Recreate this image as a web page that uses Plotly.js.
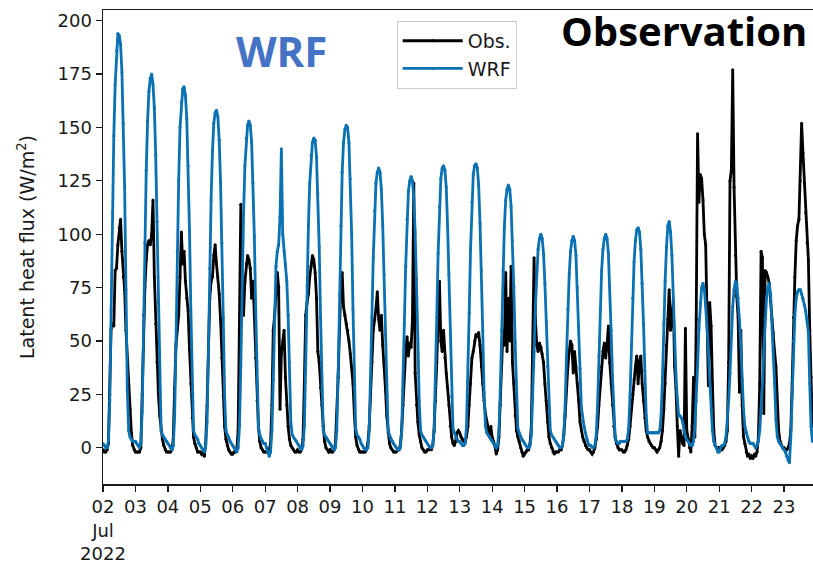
<!DOCTYPE html>
<html>
<head>
<meta charset="utf-8">
<script src="https://cdn.plot.ly/plotly-3.0.1.min.js"></script>
<style>
  html, body { margin: 0; padding: 0; overflow: hidden; background: #fff; }
  #chart { width: 830px; height: 566px; }
</style>
</head>
<body>
<div id="chart"></div>
<script>
// Days of July 2022 shown on the time axis (also the tick labels)
const dayLabels = ['02','03','04','05','06','07','08','09','10','11','12',
                   '13','14','15','16','17','18','19','20','21','22','23'];

// Observed latent heat flux (W/m2), hourly, one row per day (00h..23h)
const obsFlux = [
  [-1,-2,-2,-1,2,25,56,58,57,83,84,95,103,107,92,80,74,55,42,32,18,7,1,-1],
  [-2,-2,-2,-2,0,25,62,75,88,95,97,95,100,116,80,58,40,25,15,8,4,1,-1,-2],
  [-2,-2,-2,-1,4,28,48,55,62,80,101,86,92,78,70,64,46,30,14,5,2,0,-2,-2],
  [-2,-3,-2,-4,2,20,46,70,78,80,90,95,86,80,72,60,42,24,10,4,1,-1,-2,-3],
  [-3,-2,-2,-1,8,55,114,70,62,78,86,90,88,84,70,78,62,42,22,10,3,0,-1,-2],
  [-2,-2,-2,-1,2,20,55,62,72,82,75,18,44,50,55,33,20,10,4,1,0,-1,-2,-2],
  [-1,-2,-2,-1,4,30,62,68,72,80,85,90,88,82,70,45,40,28,20,10,3,0,-1,-2],
  [-1,-2,-2,-1,2,15,33,55,75,82,66,62,58,55,50,44,38,30,16,5,1,-1,-2,-2],
  [-2,-2,-2,-1,2,10,25,40,55,60,65,73,60,55,62,48,40,28,15,7,2,0,-1,-2],
  [-2,-2,-1,-1,1,8,20,35,45,52,43,49,47,60,124,35,20,12,6,3,0,-1,-2,-2],
  [-1,-1,0,-1,1,8,22,40,60,78,50,45,55,42,35,28,20,10,5,2,1,3,7,8],
  [7,5,4,3,3,5,10,20,30,42,45,50,53,52,54,48,38,30,22,16,12,8,6,10],
  [5,3,1,-3,-1,5,20,40,55,48,82,45,70,50,85,40,30,15,8,5,3,0,-2,-4],
  [-3,-2,-1,-1,2,10,45,89,60,48,45,49,47,44,40,30,22,12,5,2,0,-2,-3,-2],
  [-2,-2,-1,-1,1,6,15,28,38,45,50,48,35,45,38,30,22,12,8,5,3,1,0,-1],
  [-1,-2,-3,-2,0,4,10,20,30,38,45,49,42,48,57,40,30,20,10,5,2,0,-1,-1],
  [-1,-2,-2,-1,1,4,10,18,25,32,38,43,30,40,43,30,22,14,8,5,3,2,1,0],
  [0,-1,-2,-1,0,3,8,18,30,48,60,74,55,60,69,38,28,10,-4,8,5,2,1,56],
  [8,4,0,-2,10,33,5,60,147,115,128,126,116,100,95,68,29,68,57,30,8,1,0,0],
  [0,-1,-1,0,1,3,8,40,125,130,177,122,90,71,61,26,55,20,5,2,-2,-4,-3,-5],
  [-4,-5,-3,-4,-2,5,30,92,89,16,83,82,80,77,69,60,54,45,38,20,8,3,1,0],
  [0,-1,-1,0,2,8,30,61,80,97,104,107,125,152,138,124,110,96,88,55,33,10]
];

// WRF simulated latent heat flux (W/m2), hourly, one row per day (00h..23h)
const wrfFlux = [
  [2,1,0,0,3,22,64,110,146,170,186,194,193,189,176,152,122,74,27,8,5,4,3,3],
  [3,2,1,0,2,17,54,96,130,153,167,173,175,170,159,137,106,68,27,8,6,5,4,3],
  [2,1,0,-1,1,14,49,92,125,150,162,168,169,165,154,132,102,65,26,8,6,5,4,2],
  [1,0,-1,-2,1,12,44,84,116,139,152,157,158,155,144,124,96,61,24,8,6,5,3,2],
  [1,0,-1,-2,0,10,39,79,109,132,145,151,153,151,143,124,99,65,30,10,6,4,3,2],
  [2,0,-2,-4,-2,8,32,60,85,92,95,108,140,100,92,86,78,62,40,12,6,5,4,3],
  [2,1,0,-1,1,10,39,76,104,124,137,143,145,144,136,119,94,61,27,8,6,5,4,3],
  [2,1,0,-1,0,8,34,72,104,129,143,149,151,150,143,126,100,65,28,9,6,5,4,2],
  [1,0,-1,-1,0,8,29,61,89,111,124,129,131,129,121,104,81,53,24,8,6,4,3,2],
  [1,0,-1,-1,0,7,27,58,85,107,120,125,127,125,117,101,79,51,22,8,6,5,4,3],
  [2,1,0,0,1,8,29,61,91,113,126,131,132,130,122,104,81,53,24,9,7,5,4,3],
  [3,2,1,1,2,10,31,63,93,115,128,132,133,131,123,105,83,55,26,10,7,6,5,4],
  [3,2,1,0,1,8,27,55,83,103,116,121,123,121,113,97,75,49,22,9,7,5,4,3],
  [2,1,0,0,1,6,22,45,67,83,93,98,100,98,91,77,59,38,17,8,6,5,4,3],
  [2,1,0,0,1,6,20,43,65,81,92,97,99,97,90,75,57,37,19,13,10,7,4,2],
  [1,1,0,0,1,6,20,43,65,83,93,98,100,98,91,75,55,34,15,5,3,2,2,3],
  [3,3,3,3,4,9,24,48,70,87,97,102,103,101,93,77,58,36,15,7,7,7,7,7],
  [7,7,7,7,8,15,32,58,78,94,104,106,101,90,70,50,34,23,15,15,14,12,8,5],
  [4,3,2,1,1,3,10,22,38,56,68,75,77,74,66,57,46,32,18,8,3,1,0,-2],
  [-2,0,1,1,2,5,12,22,35,54,66,74,78,77,70,60,48,32,18,10,7,5,3,2],
  [2,2,1,0,1,3,8,18,30,45,60,70,75,77,72,60,45,30,13,5,3,2,1,0],
  [-1,-2,-4,-6,-7,5,25,50,62,70,73,74,74,72,70,67,64,60,54,30,10,3]
];

const yTicks = [0, 25, 50, 75, 100, 125, 150, 175, 200];

// Expand the day-by-hour rows into timestamped series
function toSeries(rows) {
  const x = [], y = [];
  rows.forEach((row, d) => {
    row.forEach((v, h) => {
      x.push('2022-07-' + dayLabels[d] + ' ' + String(h).padStart(2, '0') + ':00');
      y.push(v);
    });
  });
  return { x, y };
}

const obs = toSeries(obsFlux);
const wrf = toSeries(wrfFlux);

const tickVals = dayLabels.map(d => '2022-07-' + d);
const tickText = dayLabels.map((d, i) => i === 0 ? d + '<br>Jul<br>2022' : d);

const axisFont = { family: 'DejaVu Sans, sans-serif', size: 18, color: '#1a1a1a' };

const traces = [
  {
    x: obs.x, y: obs.y, name: 'Obs.', type: 'scatter', mode: 'lines+markers',
    line: { color: '#000000', width: 2.8 },
    marker: { color: '#000000', size: 3 }
  },
  {
    x: wrf.x, y: wrf.y, name: 'WRF', type: 'scatter', mode: 'lines+markers',
    line: { color: '#0a71b3', width: 2.8 },
    marker: { color: '#0a71b3', size: 3 }
  }
];

const layout = {
  width: 830, height: 566,
  margin: { l: 103, r: 0, t: 10, b: 82 },
  paper_bgcolor: '#ffffff', plot_bgcolor: '#ffffff',
  showlegend: true,
  legend: {
    x: 0.404, y: 0.977, xanchor: 'left', yanchor: 'top',
    bgcolor: 'rgba(255,255,255,0.85)', bordercolor: '#cccccc', borderwidth: 1,
    itemwidth: 60,
    font: { family: 'DejaVu Sans, sans-serif', size: 19, color: '#1a1a1a' }
  },
  xaxis: {
    type: 'date',
    range: ['2022-07-02 00:00', '2022-07-24 10:00'],
    tickmode: 'array', tickvals: tickVals, ticktext: tickText, tickangle: 0,
    ticks: 'outside', ticklen: 6, tickwidth: 1.3, tickcolor: '#1a1a1a',
    showline: true, linecolor: '#1a1a1a', linewidth: 1.5, mirror: true,
    showgrid: false, zeroline: false, tickfont: axisFont
  },
  yaxis: {
    range: [-17, 205],
    tickmode: 'array', tickvals: yTicks,
    ticks: 'outside', ticklen: 6, tickwidth: 1.3, tickcolor: '#1a1a1a',
    showline: true, linecolor: '#1a1a1a', linewidth: 1.5, mirror: true,
    showgrid: false, zeroline: false, tickfont: axisFont,
    title: {
      text: 'Latent heat flux (W/m<sup>2</sup>)',
      font: { family: 'DejaVu Sans, sans-serif', size: 19, color: '#1a1a1a' },
      standoff: 18
    }
  },
  annotations: [
    {
      xref: 'paper', yref: 'paper', x: 0.245, y: 0.9156,
      xanchor: 'center', yanchor: 'middle', showarrow: false,
      text: 'WRF',
      font: { family: 'Open Sans, sans-serif', size: 42, weight: 'bold', color: '#4472c4' }
    },
    {
      xref: 'paper', yref: 'paper', x: 0.799, y: 0.9557,
      xanchor: 'center', yanchor: 'middle', showarrow: false,
      text: 'Observation',
      font: { family: 'Open Sans, sans-serif', size: 40, weight: 'bold', color: '#000000' }
    }
  ]
};

Plotly.newPlot('chart', traces, layout, { displayModeBar: false, staticPlot: true });
</script>
</body>
</html>
